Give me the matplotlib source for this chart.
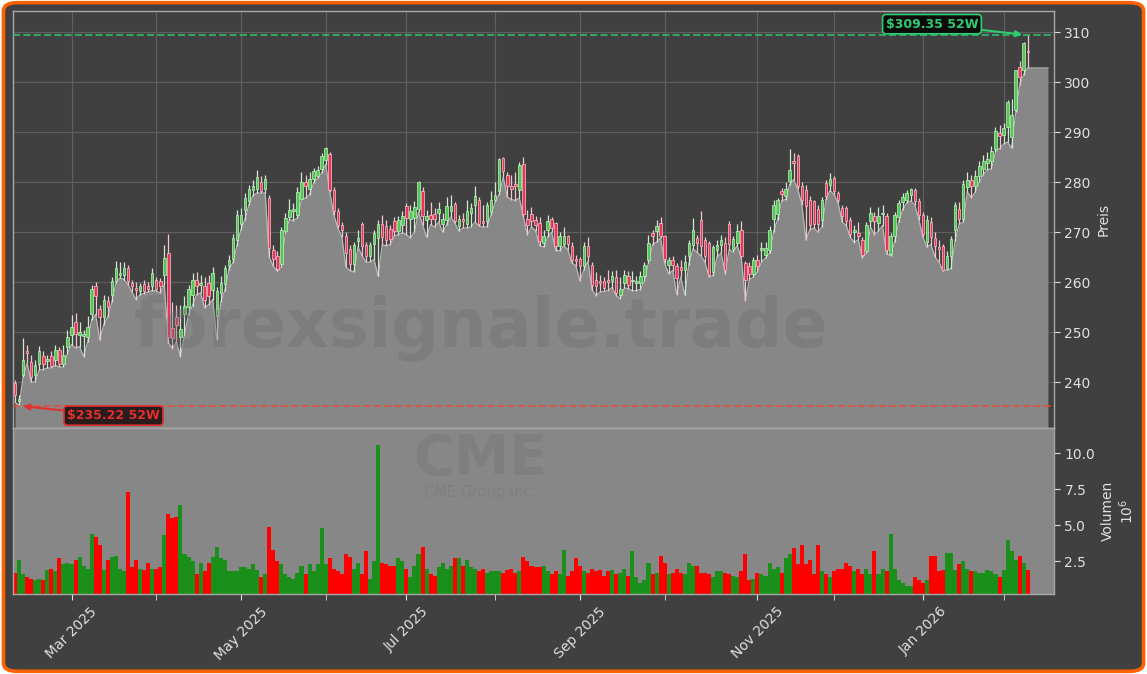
import numpy as np
import pandas as pd
import matplotlib
matplotlib.use('Agg')
import matplotlib.pyplot as plt
from matplotlib.patches import FancyBboxPatch

# ---------------- data ----------------
opens = [239.9, 236.2, 241.4, 246.2, 244.1, 241.4, 243.6, 245.1, 244.2, 245.3,
         244.4, 246.3, 243.6, 247.1, 249.4, 252.0, 249.5, 249.2, 249.1, 253.7,
         259.1, 254.7, 253.0, 256.2, 257.4, 260.1, 261.4, 261.4, 262.9, 259.8,
         258.7, 258.1, 259.7, 259.2, 259.1, 260.4, 260.1, 261.4, 265.9, 250.9,
         253.1, 249.1, 253.7, 255.1, 257.4, 260.4, 259.5, 259.1, 259.7, 258.4,
         253.2, 257.9, 259.6, 263.3, 264.7, 268.4, 271.7, 274.4, 276.3, 278.4,
         278.7, 280.0, 278.7, 276.7, 266.4, 265.2, 263.7, 270.1, 273.0, 274.3,
         273.4, 276.7, 280.0, 278.7, 280.7, 281.2, 282.7, 284.4, 285.6, 278.4,
         274.2, 271.5, 269.2, 266.6, 263.7, 268.3, 271.5, 267.3, 265.3, 267.6,
         268.9, 271.6, 271.1, 270.6, 272.1, 270.1, 271.5, 275.1, 272.7, 272.8,
         274.7, 278.2, 272.5, 273.3, 273.7, 273.9, 271.7, 272.5, 274.3, 275.6,
         271.1, 272.7, 271.6, 273.9, 275.4, 276.3, 272.2, 272.1, 274.0, 276.4,
         278.1, 284.7, 281.4, 279.1, 279.6, 278.4, 283.6, 272.7, 273.7, 272.4,
         271.7, 267.9, 270.4, 272.6, 271.7, 267.1, 267.7, 269.1, 267.2, 264.6,
         264.5, 263.1, 267.2, 263.4, 260.4, 260.0, 260.1, 260.4, 260.3, 261.0,
         257.4, 259.9, 261.1, 260.1, 259.9, 259.9, 261.1, 264.4, 269.7, 270.1,
         271.7, 269.2, 263.4, 264.4, 263.2, 263.0, 262.4, 265.1, 267.4, 268.9,
         272.4, 268.4, 267.7, 262.0, 266.4, 267.4, 267.7, 271.7, 266.7, 267.9,
         270.4, 263.7, 263.1, 261.6, 264.4, 266.4, 265.4, 266.4, 272.7, 273.6,
         278.1, 277.1, 280.3, 284.1, 285.1, 279.1, 278.4, 276.4, 276.1, 274.7,
         272.4, 279.7, 279.4, 280.7, 277.7, 274.9, 274.9, 272.4, 270.0, 269.7,
         268.3, 266.3, 272.1, 273.1, 271.9, 273.6, 273.2, 265.6, 269.1, 273.0,
         276.0, 276.5, 277.4, 278.4, 276.1, 273.4, 268.0, 272.0, 268.9, 266.9,
         267.1, 262.7, 265.2, 270.4, 274.5, 272.7, 279.0, 280.4, 279.1, 281.1,
         282.7, 283.9, 284.1, 286.7, 289.9, 289.4, 291.0, 289.0, 294.5, 303.0,
         302.4, 306.2]
highs = [240.5, 237.5, 248.9, 247.5, 245.5, 244.5, 247.3, 246.2, 245.5, 246.3,
         247.4, 247.0, 247.5, 250.4, 253.5, 253.8, 252.1, 250.5, 253.2, 259.5,
         260.0, 255.5, 257.5, 257.2, 261.0, 264.2, 264.0, 264.0, 263.5, 260.5,
         260.0, 259.8, 260.5, 260.0, 262.8, 261.0, 260.8, 267.4, 269.6, 256.0,
         255.5, 255.4, 257.3, 259.5, 261.9, 262.0, 261.5, 261.0, 261.5, 263.0,
         259.0, 261.3, 263.5, 265.5, 269.7, 274.5, 274.8, 277.8, 279.5, 280.5,
         282.5, 281.3, 281.5, 277.5, 267.5, 266.3, 271.0, 273.8, 276.7, 275.8,
         279.0, 282.0, 281.5, 282.0, 282.8, 283.3, 285.8, 287.0, 286.0, 279.0,
         274.8, 272.0, 270.0, 267.5, 268.0, 270.5, 272.0, 268.0, 268.0, 270.5,
         272.5, 273.5, 272.5, 271.5, 273.0, 273.3, 274.3, 275.8, 275.5, 276.2,
         280.3, 279.0, 274.5, 276.0, 274.8, 276.0, 273.8, 277.0, 277.5, 276.0,
         273.5, 273.8, 276.5, 275.8, 279.1, 277.0, 275.5, 276.0, 278.3, 280.0,
         284.8, 285.0, 282.0, 281.5, 282.0, 284.0, 285.0, 274.5, 275.0, 273.2,
         273.0, 270.5, 273.5, 273.0, 272.0, 270.0, 271.0, 269.5, 268.0, 265.5,
         265.0, 268.0, 269.0, 264.0, 262.0, 261.5, 261.0, 262.5, 262.2, 262.5,
         261.0, 262.5, 262.2, 262.2, 261.3, 262.2, 264.0, 269.5, 270.5, 272.5,
         273.0, 269.5, 265.0, 265.2, 263.8, 264.5, 265.5, 268.5, 272.8, 269.5,
         274.2, 269.0, 268.2, 267.5, 268.5, 269.5, 269.0, 272.2, 269.3, 271.6,
         272.3, 264.3, 264.0, 265.0, 265.5, 268.0, 268.0, 271.3, 276.5, 276.9,
         278.9, 280.0, 286.7, 285.8, 285.7, 280.0, 279.4, 277.2, 276.5, 275.5,
         277.0, 280.5, 281.9, 281.3, 278.3, 275.5, 275.2, 273.0, 271.5, 272.0,
         269.0, 272.0, 275.0, 274.0, 275.0, 275.4, 273.8, 269.8, 274.0, 276.5,
         277.8, 278.5, 278.9, 278.8, 276.8, 274.0, 273.5, 273.0, 270.0, 268.5,
         267.6, 266.3, 269.3, 276.0, 276.0, 280.5, 282.0, 281.5, 282.5, 284.2,
         285.5, 286.0, 287.2, 291.0, 291.5, 291.9, 296.5, 296.7, 302.4, 304.2,
         308.0, 309.35]
lows = [236.0, 235.22, 241.0, 243.8, 240.0, 240.0, 242.4, 242.5, 242.8, 242.8,
        243.3, 243.0, 243.0, 245.7, 247.5, 246.8, 247.1, 245.1, 248.0, 252.5,
        253.5, 248.4, 251.5, 253.0, 256.0, 259.8, 260.8, 260.5, 259.5, 258.0,
        256.5, 257.5, 257.7, 258.0, 258.3, 258.2, 257.8, 259.5, 247.9, 246.7,
        248.0, 245.1, 249.5, 253.5, 255.3, 257.5, 257.8, 254.8, 255.5, 256.5,
        248.5, 256.0, 258.3, 262.5, 263.8, 267.3, 270.5, 272.5, 275.5, 277.3,
        277.8, 277.8, 277.8, 265.0, 263.2, 262.1, 263.0, 269.8, 272.5, 272.3,
        272.8, 276.5, 276.8, 277.5, 279.8, 280.8, 281.8, 283.5, 278.0, 273.5,
        270.8, 269.0, 263.0, 262.3, 262.0, 267.0, 265.3, 264.0, 264.0, 264.5,
        261.1, 267.4, 267.3, 267.5, 269.2, 269.5, 269.8, 269.5, 268.8, 270.0,
        274.0, 271.5, 269.0, 271.5, 271.0, 272.0, 270.0, 271.5, 273.0, 271.8,
        270.2, 270.8, 270.8, 271.0, 272.0, 271.2, 271.0, 271.0, 273.5, 276.0,
        277.5, 281.0, 277.0, 276.5, 276.3, 276.8, 273.0, 269.5, 271.0, 270.3,
        267.3, 267.0, 269.0, 270.0, 266.3, 266.3, 267.2, 266.5, 263.8, 263.3,
        260.2, 262.5, 264.2, 258.5, 257.3, 258.0, 258.1, 258.3, 258.9, 257.3,
        256.7, 258.8, 258.7, 258.2, 258.3, 258.5, 260.2, 263.8, 267.5, 268.0,
        268.8, 263.8, 261.6, 262.3, 257.5, 261.0, 257.4, 263.5, 266.6, 266.0,
        265.2, 264.0, 261.0, 261.3, 265.0, 265.8, 261.7, 266.5, 266.0, 267.3,
        264.8, 256.3, 260.5, 261.0, 262.0, 264.0, 264.8, 265.8, 270.0, 272.5,
        276.3, 276.5, 279.5, 280.5, 278.6, 275.5, 268.4, 270.5, 270.8, 270.0,
        271.0, 276.5, 278.3, 277.5, 275.8, 272.0, 271.3, 269.0, 267.9, 268.5,
        264.8, 265.8, 271.0, 269.5, 270.2, 271.3, 265.6, 265.3, 268.0, 272.0,
        274.5, 275.8, 276.2, 275.5, 272.5, 269.0, 267.0, 267.5, 265.0, 264.0,
        262.2, 262.4, 262.7, 268.3, 271.6, 272.0, 278.0, 276.9, 278.0, 280.0,
        281.5, 282.5, 282.6, 286.0, 286.7, 287.6, 288.0, 286.8, 294.0, 299.4,
        301.5, 302.8]
closes = [237.4, 236.6, 244.4, 245.8, 241.0, 243.3, 246.2, 243.7, 244.6, 243.3,
          246.3, 243.6, 245.3, 249.1, 251.0, 249.6, 250.0, 249.5, 251.1, 258.7,
          257.1, 253.1, 256.4, 255.1, 260.1, 262.9, 261.9, 262.9, 260.1, 259.2,
          258.4, 259.1, 258.3, 258.7, 261.7, 258.7, 259.1, 264.7, 249.1, 248.9,
          251.4, 250.7, 255.1, 258.5, 260.4, 259.1, 259.8, 256.4, 257.1, 261.9,
          258.1, 259.7, 262.7, 264.4, 268.9, 273.3, 273.3, 276.7, 278.7, 279.2,
          281.0, 278.3, 280.5, 266.9, 264.6, 262.7, 270.4, 272.7, 274.4, 274.7,
          278.0, 280.0, 279.2, 280.7, 282.1, 282.3, 285.1, 286.9, 278.4, 274.1,
          271.4, 270.5, 265.9, 263.7, 267.3, 268.8, 267.1, 265.2, 267.4, 269.7,
          271.5, 269.0, 268.4, 268.7, 270.1, 272.4, 273.2, 272.9, 274.2, 275.0,
          280.0, 273.2, 273.1, 272.7, 272.7, 274.5, 272.5, 275.1, 275.3, 272.3,
          272.5, 272.3, 274.1, 274.7, 277.1, 271.6, 271.9, 275.4, 276.5, 277.4,
          284.5, 282.1, 279.1, 278.6, 279.3, 283.4, 273.7, 271.5, 272.2, 271.5,
          268.1, 269.2, 272.1, 270.9, 267.1, 269.1, 269.2, 267.6, 264.4, 264.2,
          263.1, 267.1, 265.1, 259.4, 259.1, 259.9, 258.9, 260.0, 261.1, 257.8,
          258.6, 261.4, 259.5, 260.4, 260.2, 261.1, 263.4, 267.7, 269.1, 271.2,
          269.1, 264.7, 264.4, 263.4, 260.9, 262.5, 264.0, 267.7, 270.4, 267.8,
          267.1, 265.1, 261.4, 267.0, 267.4, 268.4, 262.4, 267.7, 268.5, 270.1,
          265.2, 260.4, 261.7, 264.4, 263.1, 266.9, 266.9, 270.4, 275.4, 276.3,
          277.6, 278.5, 282.4, 283.9, 279.1, 276.4, 275.1, 271.4, 271.7, 271.7,
          276.4, 277.1, 280.5, 278.1, 276.4, 273.1, 272.1, 269.7, 270.5, 269.1,
          265.4, 271.4, 273.7, 272.3, 273.2, 273.9, 266.4, 269.2, 273.4, 275.9,
          277.0, 277.8, 278.5, 276.1, 273.4, 269.7, 272.5, 269.0, 267.1, 266.7,
          262.5, 265.2, 268.6, 275.4, 272.6, 279.7, 280.5, 279.1, 281.2, 283.1,
          284.1, 284.5, 286.1, 290.1, 289.1, 290.9, 296.0, 293.5, 302.4, 301.0,
          307.7, 306.0]
volumes = [1.7, 2.6, 1.6, 1.4, 1.3, 1.2, 1.3, 1.2, 1.9, 2.0,
           1.8, 2.7, 2.3, 2.4, 2.3, 2.6, 2.8, 2.2, 2.0, 4.4,
           4.2, 3.6, 1.9, 2.6, 2.8, 2.9, 2.0, 1.8, 7.3, 2.1,
           2.6, 2.0, 1.9, 2.4, 2.0, 2.0, 2.1, 4.3, 5.8, 5.5,
           5.6, 6.4, 3.0, 2.8, 2.5, 1.6, 2.4, 1.8, 2.4, 2.8,
           3.5, 2.7, 2.6, 1.8, 1.8, 1.8, 2.1, 2.1, 2.0, 2.3,
           1.9, 1.4, 1.6, 4.9, 3.3, 2.5, 2.3, 1.6, 1.4, 1.3,
           1.7, 2.2, 1.6, 2.3, 1.8, 2.3, 4.8, 2.3, 2.7, 2.0,
           1.8, 1.6, 3.0, 2.8, 2.0, 2.4, 1.6, 3.2, 1.3, 2.5,
           10.6, 2.4, 2.3, 2.2, 2.2, 2.7, 2.5, 2.0, 1.4, 2.2,
           3.0, 3.5, 2.0, 1.6, 1.5, 2.1, 2.4, 2.0, 2.2, 2.7,
           2.7, 2.2, 2.6, 2.1, 2.0, 1.8, 2.0, 1.7, 1.8, 1.8,
           1.8, 1.7, 1.9, 2.0, 1.7, 1.8, 2.8, 2.5, 2.2, 2.1,
           2.1, 2.2, 1.8, 1.6, 1.8, 1.6, 3.3, 1.5, 1.8, 2.7,
           2.2, 1.8, 1.7, 2.0, 1.8, 1.9, 1.5, 1.8, 1.9, 1.6,
           1.7, 2.0, 1.5, 3.2, 1.4, 1.0, 1.2, 2.4, 1.6, 1.7,
           2.9, 2.4, 1.6, 1.7, 2.0, 1.7, 1.6, 2.4, 2.2, 2.2,
           1.7, 1.7, 1.6, 1.4, 1.8, 1.8, 1.7, 1.6, 1.5, 1.4,
           1.8, 3.0, 1.2, 1.3, 1.7, 1.6, 1.5, 2.4, 2.0, 2.1,
           1.7, 2.7, 3.0, 3.4, 2.3, 3.6, 2.3, 2.6, 1.6, 3.6,
           1.8, 1.6, 1.4, 1.8, 2.0, 2.0, 2.4, 2.2, 1.8, 2.0,
           1.6, 2.0, 1.6, 3.2, 1.6, 2.0, 1.8, 4.4, 2.0, 1.2,
           1.0, 0.8, 0.8, 1.4, 1.2, 1.0, 1.2, 2.9, 2.9, 1.8,
           1.9, 3.1, 3.1, 1.9, 2.3, 2.5, 2.0, 1.8, 1.8, 1.7,
           1.7, 1.9, 1.8, 1.6, 1.4, 1.9, 4.0, 3.2, 2.6, 2.9,
           2.4, 1.9]
market_holidays = ['2025-02-17', '2025-04-18', '2025-05-26', '2025-06-19',
                   '2025-07-04', '2025-09-01', '2025-11-27', '2025-12-25',
                   '2026-01-01', '2026-01-19']
start_date = '2025-02-10'
labeled_months = [1, 3, 5, 7, 9, 11]
high_52w = 309.35
low_52w = 235.22
watermark = 'forexsignale.trade'
ticker = 'CME'
company = 'CME Group Inc.'

# ---------------- build ----------------
o = np.array(opens); h = np.array(highs); l = np.array(lows); c = np.array(closes)
v = np.array(volumes)
n = min(len(o), len(h), len(l), len(c), len(v))
o, h, l, c, v = o[:n], h[:n], l[:n], c[:n], v[:n]
dates = pd.bdate_range(start_date, periods=n, freq='C', holidays=market_holidays)
x = np.arange(n)           # trading-day index axis
up = c >= o

# first trading day of each month
month_key = dates.year * 100 + dates.month
first_idx = [i for i in range(n) if i > 0 and month_key[i] != month_key[i - 1]]
major_idx = [i for i in first_idx if dates[i].month in labeled_months]
minor_idx = [i for i in first_idx if dates[i].month not in labeled_months]

BG = '#404040'
FILL = '#878787'
TXT = '#e0e0e0'

fig = plt.figure(figsize=(11.47, 6.74), dpi=100)
fig.patch.set_facecolor('white')
border = FancyBboxPatch((0.003, 0.004), 0.994, 0.992, boxstyle='round,pad=0,rounding_size=0.012',
                        transform=fig.transFigure, facecolor=BG, edgecolor='#ff6000',
                        linewidth=2.6, zorder=-10)
fig.patches.append(border)

L, R = 13 / 1147, 1054 / 1147
ax = fig.add_axes([L, 1 - 428 / 674, R - L, (428 - 11) / 674])
axv = fig.add_axes([L, 1 - 594 / 674, R - L, (594 - 428) / 674], sharex=ax)

ax.set_facecolor(BG)
axv.set_facecolor(FILL)

# grid
ax.grid(True, which='both', color='#5e5e5e', linewidth=0.9, zorder=0)
ax.set_axisbelow(True)

# candles
wick_col = np.where(up, '#cfe9cf', '#f2c6cf')
ax.vlines(x, l, h, colors=wick_col, linewidth=0.9, zorder=2)
body_h = np.maximum(np.abs(c - o), 0.25)
body_b = np.minimum(o, c)
ax.bar(x, body_h, bottom=body_b, width=0.62,
       color=np.where(up, '#4fc94f', '#e8365a'),
       edgecolor=np.where(up, '#c5f2c5', '#ffc0cc'), linewidth=0.5, zorder=3)

# low area fill (extended a few bars to the right)
ext = 5
fx = np.append(x, x[-1] + ext)
fy = np.append(l, l[-1])
ymin, ymax = 230.8, 314.2
ax.fill_between(fx, fy, ymin, color=FILL, zorder=1.5, linewidth=0)
ax.plot(fx, fy, color='#b8b8b8', linewidth=0.9, zorder=1.6)
ax.set_ylim(ymin, ymax)

# 52-week lines
ax.axhline(high_52w, color='#2ecc71', linestyle='--', linewidth=1.4, alpha=0.75, zorder=4)
ax.axhline(low_52w, color='#e74c3c', linestyle='--', linewidth=1.4, alpha=0.8, zorder=4)

ih = int(np.argmax(h)); il = int(np.argmin(l))
ax.annotate(f'${high_52w:.2f} 52W', xy=(x[ih], high_52w), xytext=(-69, 8),
            textcoords='offset points', ha='center', va='center',
            color='#2ecc71', fontsize=9, fontweight='bold',
            bbox=dict(boxstyle='round,pad=0.25', facecolor='#0a0a0a', edgecolor='#2ecc71', linewidth=1.2),
            arrowprops=dict(arrowstyle='-|>', color='#2ecc71', lw=1.5, shrinkA=0, shrinkB=4),
            zorder=6)
ax.annotate(f'${low_52w:.2f} 52W', xy=(x[il], low_52w), xytext=(68, -7),
            textcoords='offset points', ha='center', va='center',
            color='#e03030', fontsize=9, fontweight='bold',
            bbox=dict(boxstyle='round,pad=0.25', facecolor='#2a1c1c', edgecolor='#e03030', linewidth=1.2),
            arrowprops=dict(arrowstyle='-|>', color='#e03030', lw=1.5, shrinkA=0, shrinkB=3),
            zorder=6)

# volume
axv.bar(x, v, width=1.0, color=np.where(up, '#1a8f1a', '#ff0000'), linewidth=0, zorder=2)
axv.set_ylim(0.23, 11.76)
axv.set_yticks([2.5, 5.0, 7.5, 10.0])

# watermarks
fig.text(481 / 1147, 1 - 328 / 674, watermark, ha='center', va='center', fontsize=48,
         fontweight='bold', color='#6e6e6e', alpha=0.38, zorder=5)
fig.text(480 / 1147, 1 - 459 / 674, ticker, ha='center', va='center', fontsize=40,
         fontweight='bold', color='#7a7a7a', alpha=0.6, zorder=5)
fig.text(480 / 1147, 1 - 492 / 674, company, ha='center', va='center', fontsize=10.5,
         color='#7a7a7a', alpha=0.6, zorder=5)

# axes cosmetics
ax.set_xlim(-0.5, x[-1] + ext + 1.5)
for a in (ax, axv):
    a.yaxis.tick_right()
    a.yaxis.set_label_position('right')
    a.tick_params(colors=TXT, labelsize=10, length=4, width=0.8)
    for s in a.spines.values():
        s.set_color('#a8a8a8')
        s.set_linewidth(1.0)
ax.set_yticks([240, 250, 260, 270, 280, 290, 300, 310])
ax.set_ylabel('Preis', color=TXT, fontsize=10)
axv.set_ylabel('Volumen\n$10^{6}$', color=TXT, fontsize=10)

axv.set_xticks(major_idx)
axv.set_xticklabels([dates[i].strftime('%b %Y') for i in major_idx], rotation=45, ha='center')
axv.set_xticks(minor_idx, minor=True)
axv.tick_params(axis='x', which='both', colors=TXT, length=4)
plt.setp(ax.get_xticklabels(), visible=False)
ax.tick_params(axis='x', which='both', length=0)

fig.savefig('out.png', dpi=100, facecolor=fig.get_facecolor())
